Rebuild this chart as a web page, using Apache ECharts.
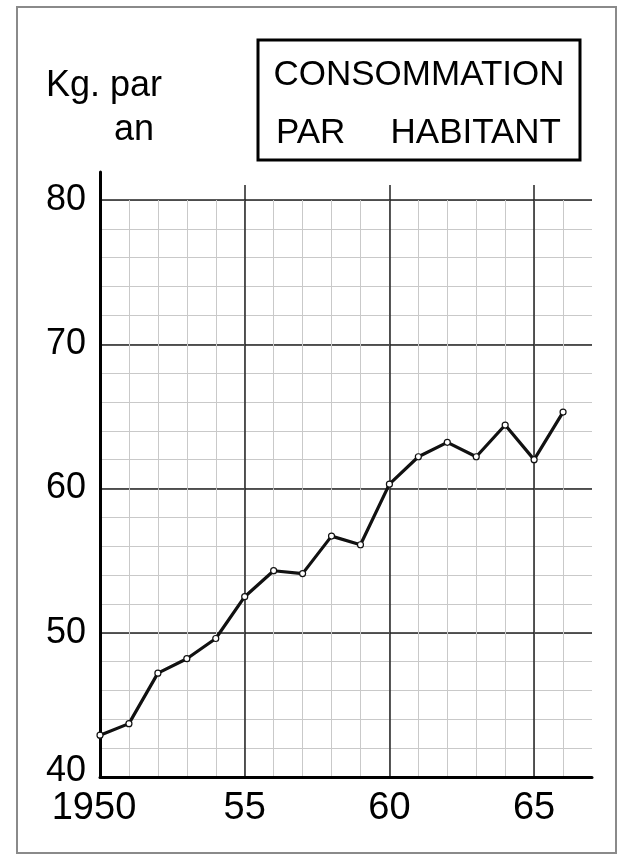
<!DOCTYPE html>
<html>
<head>
<meta charset="utf-8">
<script src="https://cdn.jsdelivr.net/npm/echarts@6/dist/echarts.min.js"></script>
<style>
html,body{margin:0;padding:0;background:#fff;}
#chart{width:618px;height:864px;}
</style>
</head>
<body>
<div id="chart"></div>
<script>
// ---- data ----
const years = [1950,1951,1952,1953,1954,1955,1956,1957,1958,1959,1960,1961,1962,1963,1964,1965,1966];
const consumption = [42.9,43.7,47.2,48.2,49.6,52.5,54.3,54.1,56.7,56.1,60.3,62.2,63.2,62.2,64.4,62.0,65.3];
const xTickValues = [1950,1955,1960,1965];
const xTickLabels = ['1950','55','60','65'];
const yTickValues = [40,50,60,70,80];
const yTickLabels = ['40','50','60','70','80'];
const unitLines = ['Kg. par','an'];
const titleLines = ['CONSOMMATION','PAR','HABITANT'];

const FONT = '"Liberation Sans", Arial, sans-serif';
const chart = echarts.init(document.getElementById('chart'));

const seriesData = years.map((y,i)=>[y, consumption[i]]);
const G = {left:100, right:26, bottom:87};

function xLabel(v){
  const i = xTickValues.indexOf(v);
  if (i < 0) return '';
  return i === 0 ? '{first|' + xTickLabels[i] + '}' : xTickLabels[i];
}
function yLabel(v){
  const i = yTickValues.indexOf(v);
  if (i < 0) return '';
  return i === 0 ? '{first|' + yTickLabels[i] + '}' : yTickLabels[i];
}

const option = {
  backgroundColor:'#fff',
  animation:false,
  grid:[
    Object.assign({top:200}, G),
    Object.assign({top:185}, G),
    Object.assign({top:200}, G),
    Object.assign({top:172}, G)
  ],
  xAxis:[
    {gridIndex:0, type:'value', min:1950, max:1967, interval:1,
     axisLine:{show:true, onZero:false, lineStyle:{color:'#000', width:3}},
     axisTick:{show:false}, axisLabel:{show:false},
     splitLine:{show:true, showMaxLine:false, lineStyle:{color:'#c9c9c9', width:1}}},
    {gridIndex:1, type:'value', min:1950, max:1967, interval:5,
     axisLine:{show:false}, axisTick:{show:false},
     axisLabel:{show:true, margin:13, color:'#000', fontFamily:FONT, fontSize:38, formatter:xLabel,
       rich:{first:{fontFamily:FONT, fontSize:38, color:'#000', padding:[0,12,0,0]}}},
     splitLine:{show:true, showMinLine:false, showMaxLine:false, lineStyle:{color:'#222', width:1.5}}},
    {gridIndex:2, type:'value', min:1950, max:1967, show:false},
    {gridIndex:3, type:'value', min:1950, max:1967, show:false}
  ],
  yAxis:[
    {gridIndex:0, type:'value', min:40, max:80, interval:2,
     axisLine:{show:false}, axisTick:{show:false}, axisLabel:{show:false},
     splitLine:{show:true, showMinLine:false, lineStyle:{color:'#c9c9c9', width:1}}},
    {gridIndex:1, type:'value', min:40, max:80, show:false},
    {gridIndex:2, type:'value', min:40, max:80, interval:10,
     axisLine:{show:false}, axisTick:{show:false},
     axisLabel:{show:true, margin:14, color:'#000', fontFamily:FONT, fontSize:36, formatter:yLabel,
       rich:{first:{fontFamily:FONT, fontSize:36, color:'#000', padding:[0,0,12,0]}}},
     splitLine:{show:true, showMinLine:false, lineStyle:{color:'#222', width:1.5}}},
    {gridIndex:3, type:'value', min:40, max:80,
     axisLine:{show:true, onZero:false, lineStyle:{color:'#000', width:3}},
     axisTick:{show:false}, axisLabel:{show:false}, splitLine:{show:false}}
  ],
  series:[{
    type:'line', xAxisIndex:0, yAxisIndex:0, data:seriesData,
    symbol:'circle', symbolSize:6,
    lineStyle:{color:'#111', width:3.2},
    itemStyle:{color:'#fff', borderColor:'#111', borderWidth:1.2},
    z:5
  }],
  graphic:[
    {type:'rect', shape:{x:17, y:7, width:599, height:846}, style:{fill:null, stroke:'#8a8a8a', lineWidth:2}, silent:true},
    {type:'rect', shape:{x:258, y:40, width:322, height:120}, style:{fill:null, stroke:'#000', lineWidth:3}, silent:true},
    {type:'text', x:46, y:86, style:{text:unitLines[0], font:'36px '+FONT, fill:'#000', textAlign:'left', textVerticalAlign:'middle', verticalAlign:'middle'}},
    {type:'text', x:114, y:130, style:{text:unitLines[1], font:'36px '+FONT, fill:'#000', textAlign:'left', textVerticalAlign:'middle', verticalAlign:'middle'}},
    {type:'text', x:419, y:75, style:{text:titleLines[0], font:'35px '+FONT, fill:'#000', textAlign:'center', textVerticalAlign:'middle', verticalAlign:'middle'}},
    {type:'text', x:276, y:133, style:{text:titleLines[1], font:'35px '+FONT, fill:'#000', textAlign:'left', textVerticalAlign:'middle', verticalAlign:'middle'}},
    {type:'text', x:561, y:133, style:{text:titleLines[2], font:'35px '+FONT, fill:'#000', textAlign:'right', textVerticalAlign:'middle', verticalAlign:'middle'}}
  ]
};
chart.setOption(option);
</script>
</body>
</html>
